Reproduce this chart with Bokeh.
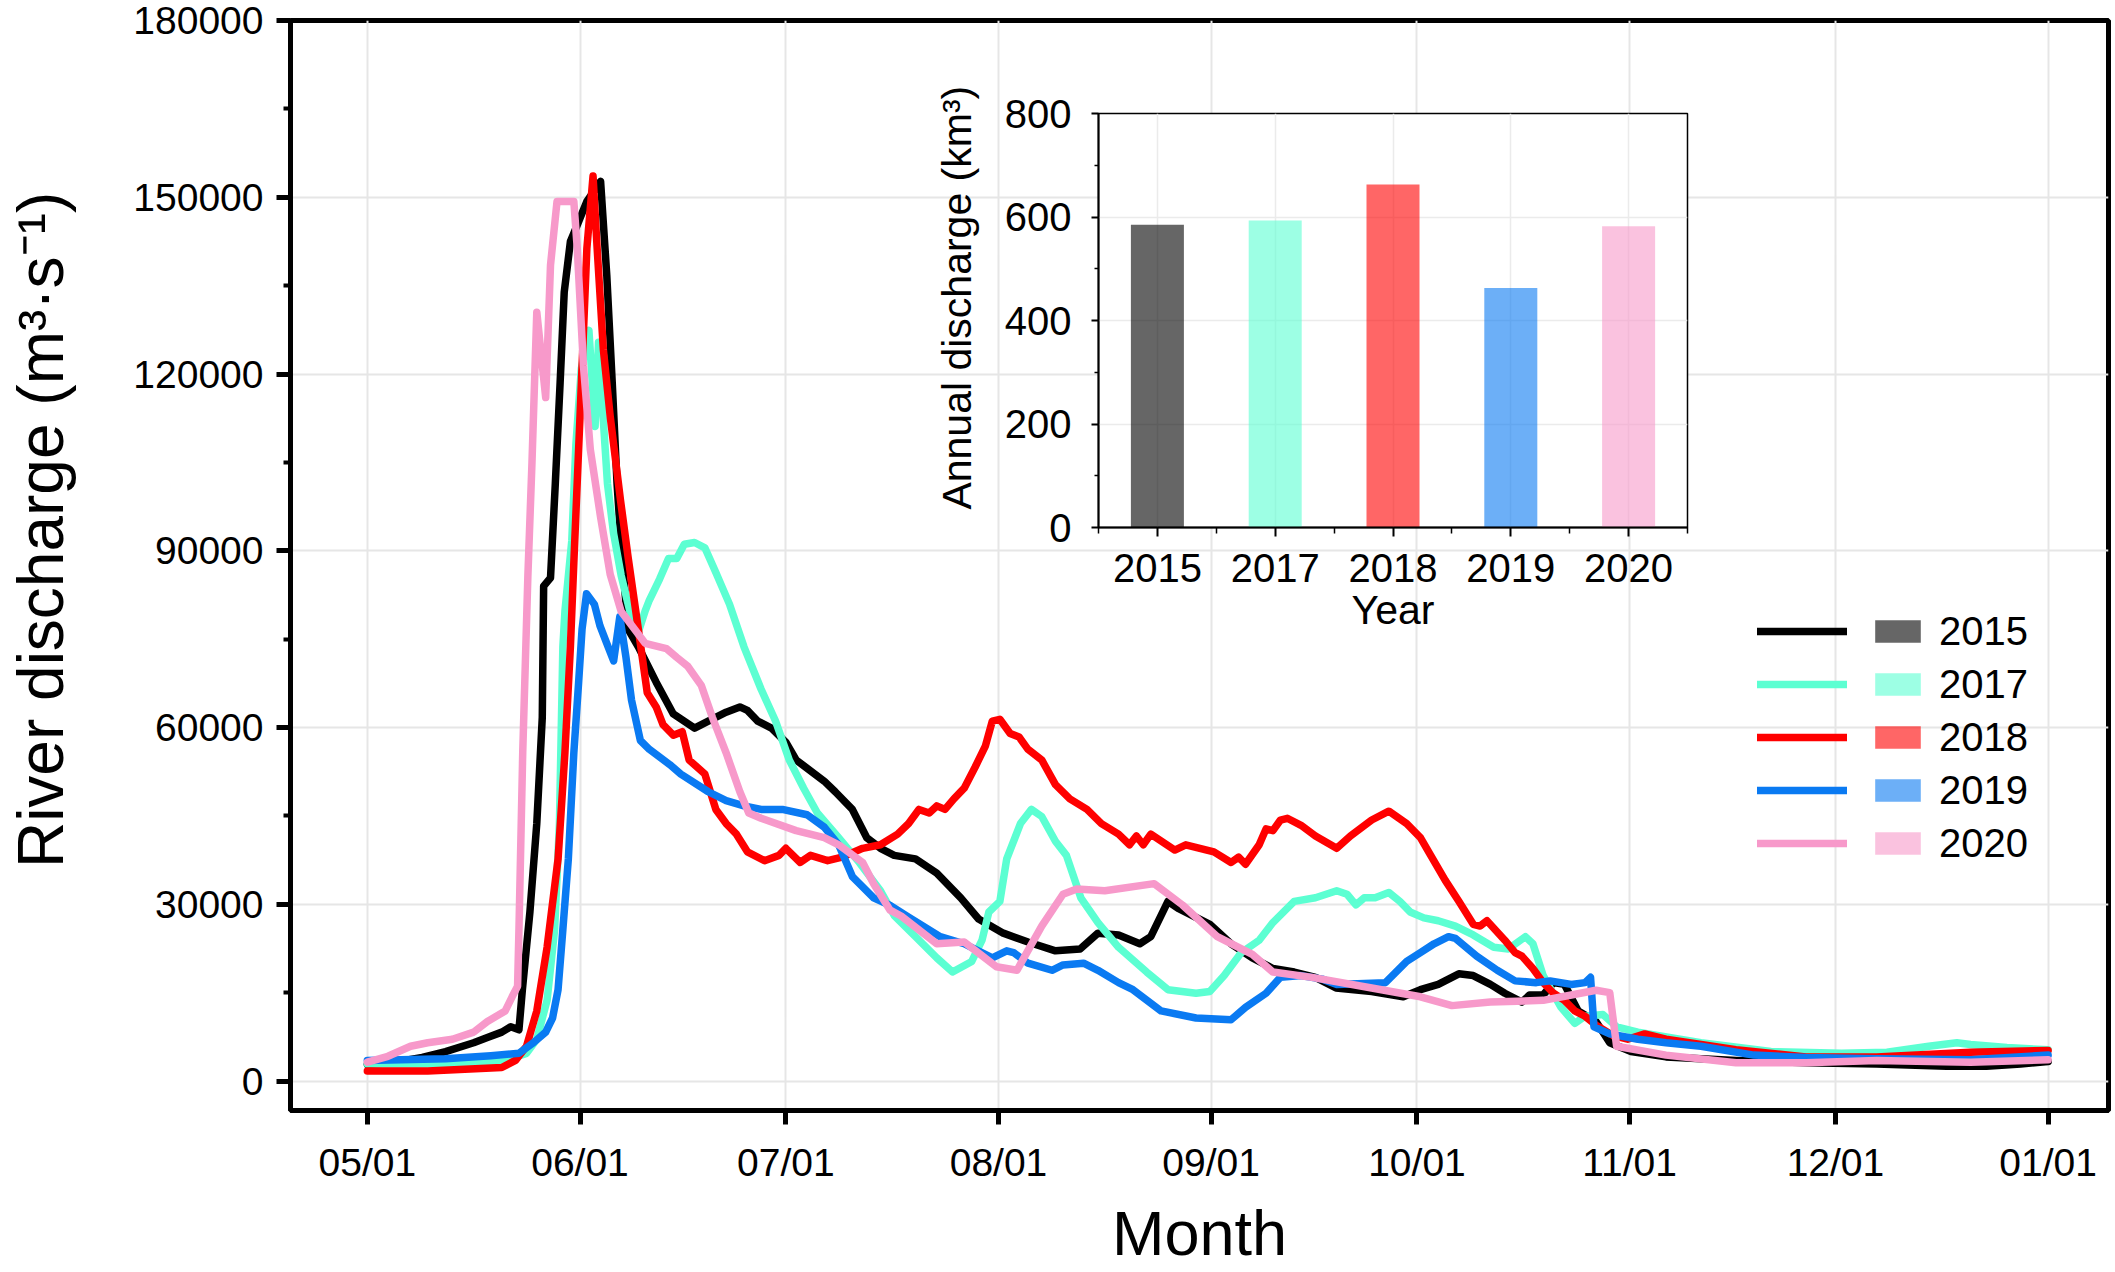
from bokeh.plotting import figure
from bokeh.models import (Range1d, FixedTicker, NumeralTickFormatter, Legend, LegendItem,
                          ColumnDataSource)
from bokeh.layouts import column
from bokeh.core.properties import value
from bokeh.embed import file_html
from bokeh.resources import INLINE

FONT = "Liberation Sans"
NBSP = "\u00a0"

# ---------------- data ----------------
# x: days since 1 May
month_ticks = [0, 31, 61, 92, 123, 153, 184, 214, 245]
month_labels = ["05/01", "06/01", "07/01", "08/01", "09/01", "10/01", "11/01", "12/01", "01/01"]

y_ticks = [0, 30000, 60000, 90000, 120000, 150000, 180000]
y_minor = [15000, 45000, 75000, 105000, 135000, 165000]

day_2015 = [0, 4, 8, 11.4, 15.5, 17.5, 19.6, 20.9, 22.1, 22.6, 23.7, 24.7, 25.5, 25.7, 26.7, 27.4, 28.1, 28.7,
            29.6, 30.6, 32.0, 34.0, 34.9, 35.7, 36.4, 37.0, 38.0, 39.5, 42.1, 44.6, 47.7, 49.7, 52.3, 54.3,
            55.4, 56.9, 58.9, 61.0, 62.5, 66.6, 68.2, 70.7, 72.8, 74.8, 76.8, 79.9, 83.0, 86.5, 89.1, 92.7,
            96.3, 100.3, 103.9, 106.5, 109.5, 112.6, 114.2, 116.7, 118.2, 122.8, 125.9, 129.0, 132.0, 135.1,
            138.2, 141.2, 146.4, 151.0, 153.5, 156.1, 159.1, 161.2, 163.7, 165.8, 168.3, 169.4, 171.4, 172.9,
            174.5, 176.5, 179.1, 181.1, 184.2, 189.3, 199.5, 209.7, 220.0, 230.2, 236.0, 241.0, 245.0]
q_2015 = [2800, 3200, 4000, 5000, 6500, 7400, 8300, 9200, 8700, 15500, 28700, 43700, 61700, 84000, 85400,
          101400, 118500, 133900, 142500, 145300, 149300, 152700, 136800, 118500, 101400, 91000, 76700, 73700,
          67700, 62300, 59900, 61100, 62600, 63500, 62900, 61100, 59900, 57500, 54500, 50900, 49100, 46100,
          41300, 39500, 38300, 37700, 35300, 31100, 27500, 25100, 23600, 22100, 22400, 25100, 24800, 23300,
          24500, 30500, 29300, 26600, 23300, 20900, 19100, 18500, 17600, 15800, 15200, 14300, 15500, 16400,
          18200, 17900, 16400, 14900, 13400, 14600, 14600, 16700, 16400, 11900, 10100, 6500, 5000, 4100, 3500,
          3100, 2900, 2500, 2500, 2900, 3300]

day_2017 = [0, 11.4, 20.1, 23.2, 24.7, 26.2, 27.3, 28.0, 28.5, 28.8, 29.8, 30.4, 31.2, 32.3, 33.2, 33.7, 34.2,
            35.0, 35.9, 37.0, 38.5, 39.5, 40.5, 41.1, 42.6, 43.9, 45.1, 46.2, 47.7, 49.2, 50.8, 52.8, 54.9,
            57.4, 59.5, 61.5, 63.6, 65.6, 68.7, 71.7, 74.8, 76.8, 79.9, 83.0, 85.3, 88.1, 89.6, 90.6, 92.2,
            93.2, 95.2, 96.8, 98.3, 100.3, 101.9, 104.0, 106.5, 109.5, 113.6, 116.7, 120.8, 122.8, 124.9,
            127.4, 130.0, 132.0, 135.1, 138.2, 141.3, 142.8, 144.1, 145.3, 146.9, 148.9, 150.5, 152.0, 154.0,
            156.1, 158.6, 161.2, 164.2, 166.3, 168.8, 169.9, 171.4, 174.0, 176.0, 177.5, 180.1, 182.1, 185.2,
            194.4, 204.6, 214.9, 221.5, 227.6, 231.7, 233.7, 239.0, 245.0]
q_2017 = [2900, 2900, 3500, 4700, 7100, 13700, 25700, 43700, 73700, 79700, 91700, 108000, 121000, 127400,
          111100, 125400, 115700, 101400, 92900, 85800, 78600, 76200, 79800, 81600, 85200, 88700, 88700, 91100,
          91400, 90500, 86300, 80900, 73700, 66500, 61100, 54500, 49700, 45500, 41300, 37100, 32300, 28100,
          24500, 20900, 18500, 20300, 23900, 28700, 30500, 37700, 43700, 46100, 44900, 40700, 38300, 31100,
          26900, 22700, 18500, 15500, 14900, 15200, 17900, 21800, 23900, 26900, 30500, 31100, 32300, 31700,
          29900, 31100, 31100, 32000, 30500, 28700, 27700, 27200, 26300, 24800, 22700, 22400, 24500, 23300,
          17900, 12500, 9800, 11000, 11300, 9200, 8300, 6500, 5000, 4700, 4900, 5900, 6500, 6200, 5700, 5300]

day_2018 = [0, 8.8, 19.6, 21.6, 23.2, 24.7, 26.2, 27.8, 28.8, 29.6, 30.1, 31.0, 32.0, 32.9, 33.5, 34.4, 35.4,
            36.9, 38.0, 39.5, 40.8, 42.1, 43.1, 44.6, 45.9, 46.9, 49.2, 50.8, 52.3, 53.8, 55.4, 57.9, 60.0,
            61.0, 63.1, 64.6, 67.1, 69.2, 72.2, 74.8, 77.3, 78.9, 80.4, 81.9, 83.0, 84.2, 85.5, 87.0, 88.6,
            90.1, 91.1, 92.2, 93.7, 95.0, 96.3, 98.3, 100.3, 102.4, 104.9, 107.0, 109.5, 111.1, 112.1, 113.1,
            114.2, 117.7, 119.3, 123.4, 125.9, 127.0, 128.0, 130.0, 131.0, 132.0, 133.1, 134.1, 136.1, 138.2,
            141.3, 143.3, 146.4, 148.9, 151.5, 153.5, 155.0, 157.1, 159.1, 161.2, 162.2, 163.2, 165.8, 167.3,
            168.3, 169.9, 171.4, 172.9, 174.5, 176.0, 177.5, 179.1, 181.6, 183.7, 186.2, 189.3, 199.5, 209.7,
            220.0, 233.7, 245.0]
q_2018 = [1700, 1700, 2300, 3500, 5900, 11900, 22700, 37700, 55700, 73700, 88000, 112800, 141300, 153600,
          141300, 124200, 112800, 98600, 89000, 76700, 65900, 63500, 60500, 58700, 59300, 54500, 52100, 46100,
          43700, 41900, 38900, 37400, 38300, 39500, 37100, 38300, 37400, 38000, 39500, 40100, 41900, 43700,
          46100, 45500, 46700, 46100, 47900, 49700, 53300, 56900, 61100, 61400, 59000, 58400, 56300, 54500,
          50300, 47900, 46100, 43700, 41900, 40100, 41600, 40100, 41900, 39200, 40100, 38900, 37100, 38000,
          36800, 40100, 42800, 42500, 44300, 44600, 43400, 41600, 39500, 41600, 44300, 45800, 43700, 41300,
          38300, 34100, 30500, 26600, 26300, 27200, 23900, 21800, 21200, 19100, 16700, 14900, 13700, 11900,
          11000, 9500, 7700, 7100, 8000, 7100, 5300, 4100, 4100, 4900, 5200]

day_2019 = [0, 11.4, 18.0, 22.1, 24.2, 26.0, 27.0, 27.8, 28.5, 29.3, 30.1, 30.8, 31.3, 31.95, 33.1, 33.9, 34.9,
            35.9, 36.8, 37.7, 38.5, 39.8, 41.1, 44.1, 45.7, 49.7, 52.3, 54.9, 57.4, 60.5, 64.1, 66.6, 68.7,
            70.7, 73.8, 76.2, 78.9, 83.5, 87.0, 91.1, 93.2, 94.2, 96.3, 99.8, 101.4, 104.4, 106.5, 109.5, 111.6,
            115.7, 120.8, 125.9, 128.0, 131.0, 133.1, 136.1, 139.2, 141.3, 148.4, 151.5, 153.5, 155.5, 157.6,
            158.6, 161.7, 164.7, 167.3, 170.4, 172.4, 175.5, 177.5, 178.3, 178.8, 181.1, 185.2, 189.3, 194.4,
            202.1, 209.7, 220.0, 233.7, 245.0]
q_2019 = [3500, 3800, 4300, 4700, 6500, 8300, 10700, 15500, 25700, 37700, 55700, 67700, 76700, 82700, 80900,
          77300, 74300, 71300, 78800, 71900, 64700, 57800, 56300, 53700, 52100, 49100, 47600, 46700, 46100,
          46100, 45200, 43100, 40100, 34700, 31100, 29800, 27800, 24500, 23300, 20900, 22100, 21800, 20000,
          18800, 19700, 20000, 18800, 16700, 15500, 11900, 10700, 10400, 12500, 14900, 17600, 17900, 17300,
          16400, 16700, 20300, 21800, 23300, 24500, 24200, 21200, 18800, 17000, 16700, 17000, 16400, 16700,
          17600, 9200, 8000, 7100, 6500, 5900, 4400, 4000, 3800, 3600, 4400]

day_2020 = [0, 3.0, 6.3, 8.8, 12.4, 15.5, 17.5, 20.1, 21.1, 21.9, 22.1, 22.65, 23.4, 24.0, 24.7, 26.0, 26.7,
            27.65, 30.1, 30.6, 31.5, 32.5, 34.0, 35.4, 37.0, 40.5, 43.6, 45.1, 46.7, 48.7, 50.3, 52.3, 54.3,
            55.6, 57.4, 62.5, 66.6, 68.7, 72.2, 73.8, 76.2, 77.8, 83.0, 87.0, 91.7, 94.7, 95.7, 98.3, 101.4,
            103.4, 107.5, 114.7, 118.8, 123.9, 129.0, 132.0, 137.7, 146.4, 153.5, 158.1, 163.7, 171.4, 175.5,
            179.1, 181.1, 182.1, 189.3, 199.5, 209.7, 220.0, 233.7, 245.0]
q_2020 = [3200, 4200, 5900, 6500, 7100, 8300, 10100, 11900, 14300, 16100, 25700, 55700, 85700, 105000, 130500,
          116000, 138500, 149300, 149300, 141300, 121400, 107200, 95700, 86000, 79700, 74300, 73400, 71900,
          70400, 67100, 61700, 55700, 49100, 45500, 44600, 42500, 41300, 40100, 37100, 33500, 29000, 28000,
          23300, 23600, 19400, 18800, 20900, 26300, 31700, 32600, 32300, 33500, 29900, 24500, 21500, 18500,
          17600, 15800, 14300, 12800, 13400, 13700, 14600, 15400, 15000, 5900, 4400, 3100, 3100, 3500, 3200,
          3600]

years = ["2015", "2017", "2018", "2019", "2020"]
annual_discharge = [585, 593, 663, 463, 582]
inset_y_ticks = [0, 200, 400, 600, 800]
inset_y_minor = [100, 300, 500, 700]

line_colors = ["#000000", "#5CFFD2", "#FF0000", "#0A7AF2", "#F799CA"]
bar_alpha = 0.6

series = [(day_2015, q_2015), (day_2017, q_2017), (day_2018, q_2018), (day_2019, q_2019), (day_2020, q_2020)]

# ---------------- main figure ----------------
W, H = 2115, 1272
BL, BR = 290, 7          # shared left/right borders (column aligns them)
p = figure(width=W, height=H, output_backend="svg", toolbar_location=None,
           x_range=Range1d(-11.2, 253.8), y_range=Range1d(-5000, 180000),
           min_border_left=BL, min_border_right=BR, min_border_top=20, min_border_bottom=162)
p.background_fill_color = "white"
p.border_fill_color = "white"
p.outline_line_color = "black"
p.outline_line_width = 5

p.xaxis.ticker = FixedTicker(ticks=month_ticks)
p.xaxis.major_label_overrides = {t: l for t, l in zip(month_ticks, month_labels)}
p.yaxis.ticker = FixedTicker(ticks=y_ticks, minor_ticks=y_minor)
p.yaxis.formatter = NumeralTickFormatter(format="0")

for ax in (p.xaxis[0], p.yaxis[0]):
    ax.axis_line_color = "black"
    ax.axis_line_width = 5
    ax.major_tick_line_color = "black"
    ax.major_tick_line_width = 5
    ax.major_tick_out = 14
    ax.major_tick_in = 0
    ax.minor_tick_line_color = "black"
    ax.minor_tick_line_width = 4
    ax.minor_tick_out = 7
    ax.minor_tick_in = 0
    ax.major_label_text_font = FONT
    ax.major_label_text_font_size = "39px"
    ax.major_label_text_color = "black"
    ax.axis_label_text_font = FONT
    ax.axis_label_text_font_style = "normal"
    ax.axis_label_text_color = "black"

p.xaxis.minor_tick_line_color = None
p.xaxis.major_label_standoff = 16
p.xaxis.axis_label = "Month"
p.xaxis.axis_label_text_font_size = "63px"
p.xaxis.axis_label_standoff = 11

p.yaxis.major_label_standoff = 13
# leading no-break spaces lift the centred label, as in the original
p.yaxis.axis_label = NBSP * 4 + "River discharge (m³·s⁻¹)"
p.yaxis.axis_label_text_font_size = "64px"
p.yaxis.axis_label_standoff = 53

for g in (p.xgrid[0], p.ygrid[0]):
    g.grid_line_color = "#E6E6E6"
    g.grid_line_width = 2

line_renderers = []
for (d, q), c in zip(series, line_colors):
    r = p.line(d, q, line_color=c, line_width=7.5, line_join="round", line_cap="round")
    line_renderers.append(r)

# legend swatches: the annual-discharge bars, hidden in the main plot (shown only in the legend)
square_renderers = []
for i, c in enumerate(line_colors):
    r = p.vbar(x=[i], top=[annual_discharge[i]], width=0.45, fill_color=c, fill_alpha=bar_alpha,
               line_color=None, visible=False)
    square_renderers.append(r)

leg_lines = Legend(items=[LegendItem(label=value(""), renderers=[r]) for r in line_renderers],
                   location=(1467, 244), orientation="vertical")
leg_squares = Legend(items=[LegendItem(label=value(y), renderers=[r]) for y, r in zip(years, square_renderers)],
                     location=(1579, 244), orientation="vertical")
for lg, gw in ((leg_lines, 90), (leg_squares, 57)):
    lg.glyph_width = gw
    lg.glyph_height = 28
    lg.label_height = 46
    lg.spacing = 7
    lg.padding = 0
    lg.margin = 0
    lg.label_standoff = 13
    lg.label_text_font = FONT
    lg.label_text_font_size = "40px"
    lg.label_text_color = "black"
    lg.border_line_color = None
    lg.background_fill_alpha = 0
    lg.click_policy = "none"
    p.add_layout(lg, "center")

# ---------------- inset bar chart ----------------
IFW = 589                # inset frame width
IH = 30 + 414 + 130
IW = BL + IFW + BR
pi = figure(width=IW, height=IH, output_backend="svg", toolbar_location=None,
            x_range=Range1d(-0.5, len(years) - 0.5), y_range=Range1d(0, 800),
            min_border_left=BL, min_border_right=BR, min_border_top=30, min_border_bottom=130)
pi.background_fill_color = "white"
pi.border_fill_color = None
pi.border_fill_alpha = 0
pi.outline_line_color = "black"
pi.outline_line_width = 1.5

bar_src = ColumnDataSource(data=dict(pos=list(range(len(years))), val=annual_discharge, color=line_colors))
pi.vbar(x="pos", top="val", width=0.45, source=bar_src, fill_color="color", fill_alpha=bar_alpha,
        line_color=None)

pi.xaxis.ticker = FixedTicker(ticks=list(range(len(years))),
                              minor_ticks=[i - 0.5 for i in range(len(years) + 1)])
pi.xaxis.major_label_overrides = {i: y for i, y in enumerate(years)}
pi.yaxis.ticker = FixedTicker(ticks=inset_y_ticks, minor_ticks=inset_y_minor)

for ax in (pi.xaxis[0], pi.yaxis[0]):
    ax.axis_line_color = "black"
    ax.axis_line_width = 2
    ax.major_tick_line_color = "black"
    ax.major_tick_line_width = 2
    ax.major_tick_in = 0
    ax.minor_tick_line_color = "black"
    ax.minor_tick_line_width = 1.5
    ax.minor_tick_in = 0
    ax.major_label_text_font = FONT
    ax.major_label_text_font_size = "40px"
    ax.major_label_text_color = "black"
    ax.axis_label_text_font = FONT
    ax.axis_label_text_font_size = "41px"
    ax.axis_label_text_font_style = "normal"
    ax.axis_label_text_color = "black"

pi.xaxis.major_tick_out = 9
pi.xaxis.minor_tick_out = 6
pi.xaxis.major_label_standoff = 17
pi.xaxis.axis_label = "Year"
pi.xaxis.axis_label_standoff = 2
pi.yaxis.major_tick_out = 7
pi.yaxis.minor_tick_out = 4
pi.yaxis.major_label_standoff = 20
pi.yaxis.axis_label = NBSP * 4 + "Annual discharge (km³)"
pi.yaxis.axis_label_standoff = 22

for g in (pi.xgrid[0], pi.ygrid[0]):
    g.grid_line_color = "#EBEBEB"
    g.grid_line_width = 1.5

# place the inset over the main plot: its frame's top-left corner at (1098, 113)
INSET_LEFT = 1098 - BL
INSET_TOP = 113 - 30
pi.margin = (INSET_TOP - H, 0, H - INSET_TOP - IH, INSET_LEFT)

layout = column(p, pi)
open("out.html", "w").write(file_html(layout, INLINE))
